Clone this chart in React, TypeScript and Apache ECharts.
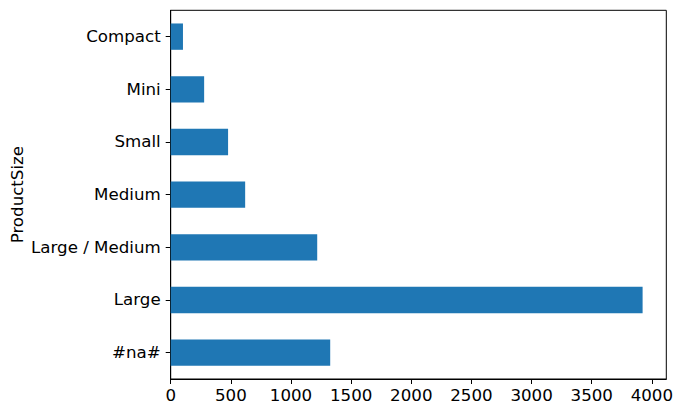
import React, { useEffect, useRef } from "react";
import * as echarts from "echarts";

const categories = ["#na#", "Large", "Large / Medium", "Medium", "Small", "Mini", "Compact"];
const counts = [1326, 3923, 1218, 619, 477, 278, 102];
const xTicks = [0, 500, 1000, 1500, 2000, 2500, 3000, 3500, 4000];
const yAxisTitle = "ProductSize";

const FONT = "DejaVu Sans";
const FS = 16.67;

export default function App() {
  const ref = useRef<HTMLDivElement>(null);
  useEffect(() => {
    const chart = echarts.init(ref.current!, null, { renderer: "svg" });
    chart.setOption({
      animation: false,
      backgroundColor: "#ffffff",
      textStyle: { fontFamily: FONT },
      grid: {
        left: 170.7,
        right: 14.7,
        top: 10.3,
        bottom: 35,
        containLabel: false,
        outerBoundsMode: "none",
        show: true,
        borderColor: "#000000",
        borderWidth: 1,
        backgroundColor: "transparent",
      },
      xAxis: {
        type: "value",
        min: 0,
        max: 4120,
        interval: 500,
        splitLine: { show: false },
        axisLine: { show: true, lineStyle: { color: "#000000", width: 1 } },
        axisTick: { show: true, length: 5, lineStyle: { color: "#000000" } },
        axisLabel: {
          color: "#000000",
          fontFamily: FONT,
          fontSize: FS,
          margin: 8,
          showMaxLabel: false,
          formatter: (v: number) => (xTicks.includes(v) ? String(v) : ""),
        },
      },
      yAxis: {
        type: "category",
        data: categories,
        name: yAxisTitle,
        nameLocation: "middle",
        nameGap: 145,
        nameRotate: 90,
        nameMoveOverlap: false,
        nameTextStyle: { color: "#000000", fontFamily: FONT, fontSize: FS },
        axisLine: { show: true, lineStyle: { color: "#000000", width: 1 } },
        axisTick: { show: true, length: 5, alignWithLabel: true, lineStyle: { color: "#000000" } },
        axisLabel: { color: "#000000", fontFamily: FONT, fontSize: FS, margin: 10 },
        splitLine: { show: false },
      },
      series: [
        {
          type: "bar",
          data: counts,
          barWidth: "50%",
          itemStyle: { color: "#1f77b4" },
        },
      ],
    });
    return () => chart.dispose();
  }, []);
  return (
    <div
      ref={ref}
      style={{ position: "fixed", left: 0, top: 0, width: 681, height: 414 }}
    />
  );
}
